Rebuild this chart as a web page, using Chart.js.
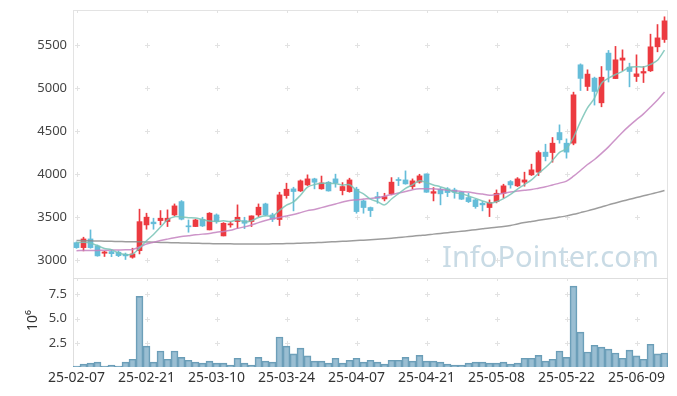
<!DOCTYPE html>
<html>
<head>
<meta charset="utf-8">
<script src="https://cdn.jsdelivr.net/npm/chart.js@4/dist/chart.umd.min.js"></script>
<style>
html,body{margin:0;padding:0;background:#fff;}
#wrap{position:relative;width:677px;height:396px;overflow:hidden;}
#c1{position:absolute;left:0;top:0;}
#c2{position:absolute;left:0;top:278px;}
</style>
</head>
<body>
<div id="wrap">
<canvas id="c1" width="677" height="278"></canvas>
<canvas id="c2" width="677" height="118"></canvas>
</div>
<script>
const dates = ['25-02-07','25-02-10','25-02-11','25-02-12','25-02-13','25-02-14','25-02-17','25-02-18','25-02-19','25-02-20',
'25-02-21','25-02-24','25-02-25','25-02-26','25-02-27','25-02-28','25-03-04','25-03-05','25-03-06','25-03-07',
'25-03-10','25-03-11','25-03-12','25-03-13','25-03-14','25-03-17','25-03-18','25-03-19','25-03-20','25-03-21',
'25-03-24','25-03-25','25-03-26','25-03-27','25-03-28','25-03-31','25-04-01','25-04-02','25-04-03','25-04-04',
'25-04-07','25-04-08','25-04-09','25-04-10','25-04-11','25-04-14','25-04-15','25-04-16','25-04-17','25-04-18',
'25-04-21','25-04-22','25-04-23','25-04-24','25-04-25','25-04-28','25-04-29','25-04-30','25-05-02','25-05-07',
'25-05-08','25-05-09','25-05-12','25-05-13','25-05-14','25-05-15','25-05-16','25-05-19','25-05-20','25-05-21',
'25-05-22','25-05-23','25-05-26','25-05-27','25-05-28','25-05-29','25-05-30','25-06-02','25-06-04','25-06-05',
'25-06-09','25-06-10','25-06-11','25-06-12','25-06-13'];

const xTickLabels = ['25-02-07','25-02-21','25-03-10','25-03-24','25-04-07','25-04-21','25-05-08','25-05-22','25-06-09'];
const priceTicks = [3000,3500,4000,4500,5000,5500];
const volumeTicks = [2.5,5.0,7.5];

const openV = [3201,3143,3244,3163,3078,3097,3090,3066,3031,3108,
3407,3440,3457,3446,3523,3678,3395,3388,3473,3349,
3523,3279,3407,3446,3457,3446,3523,3651,3523,3470,
3748,3826,3802,3872,3942,3826,3903,3942,3806,3794,
3822,3686,3609,3736,3709,3768,3935,3930,3853,3904,
4000,3775,3822,3826,3814,3787,3725,3698,3659,3609,
3678,3775,3911,3861,3904,3989,4020,4253,4248,4481,
4357,4357,5268,5016,5113,4826,5404,5108,5322,5241,
5132,5172,5198,5477,5562];
const highV = [3210,3264,3349,3174,3100,3116,3105,3080,3136,3590,
3543,3485,3574,3582,3651,3690,3465,3473,3496,3550,
3535,3434,3446,3640,3496,3512,3651,3660,3543,3787,
3892,3845,3930,3989,3950,3975,3911,3997,3899,3950,
3845,3697,3615,3787,3775,3957,3957,4035,3942,3996,
4000,3841,3841,3841,3834,3795,3775,3705,3678,3698,
3814,3880,3923,3957,4020,4113,4268,4345,4423,4570,
4407,4950,5279,5210,5125,5248,5435,5482,5442,5287,
5384,5248,5624,5736,5826];
const lowV = [3135,3105,3136,3043,3040,3038,3038,3005,3020,3070,
3357,3357,3407,3388,3512,3465,3322,3388,3388,3349,
3426,3279,3380,3368,3364,3388,3504,3512,3446,3400,
3717,3570,3795,3864,3826,3822,3799,3845,3756,3787,
3543,3543,3504,3659,3686,3756,3864,3880,3826,3892,
3785,3686,3640,3736,3717,3702,3667,3600,3570,3504,
3663,3721,3834,3853,3857,3981,3981,4151,4136,4357,
4183,4338,4969,4969,4800,4780,5068,5108,5200,5012,
5074,5062,5190,5419,5528];
const closeV = [3143,3244,3143,3047,3093,3073,3050,3047,3070,3445,
3497,3420,3485,3485,3628,3473,3385,3465,3395,3543,
3446,3426,3420,3496,3426,3512,3613,3523,3473,3756,
3822,3795,3919,3942,3903,3895,3802,3892,3853,3930,
3562,3609,3574,3717,3736,3904,3923,3884,3919,3977,
3787,3794,3768,3783,3787,3706,3678,3620,3640,3667,
3775,3861,3872,3942,3930,4047,4248,4202,4357,4396,
4253,4919,5110,5160,4958,5124,5206,5326,5347,5190,
5163,5190,5477,5581,5779];

const ma5 = [3200,3205,3198,3165,3134,3120,3081,3062,3067,3137,
3222,3296,3383,3466,3503,3498,3491,3487,3469,3452,
3447,3455,3446,3466,3443,3456,3493,3514,3509,3575,
3637,3674,3753,3847,3876,3891,3892,3887,3869,3874,
3808,3769,3706,3678,3640,3708,3771,3833,3873,3921,
3898,3872,3849,3822,3784,3768,3744,3715,3686,3662,
3676,3713,3763,3823,3876,3930,4008,4074,4157,4250,
4291,4425,4607,4768,4880,5054,5112,5155,5192,5239,
5246,5243,5273,5320,5438];
const ma20 = [3108,3109,3110,3111,3112,3114,3116,3118,3122,3150,
3185,3205,3225,3242,3258,3272,3282,3292,3300,3307,
3322,3331,3345,3367,3384,3406,3434,3458,3478,3493,
3510,3528,3550,3573,3587,3608,3629,3650,3673,3692,
3698,3707,3715,3726,3741,3761,3777,3795,3817,3828,
3826,3826,3819,3811,3805,3795,3789,3776,3765,3752,
3762,3775,3790,3801,3811,3818,3834,3850,3872,3893,
3916,3973,4040,4109,4167,4238,4314,4400,4485,4561,
4631,4697,4777,4859,4952];
const ma120 = [3225,3224,3222,3220,3218,3216,3214,3212,3210,3210,
3208,3206,3204,3202,3200,3198,3196,3194,3192,3190,
3189,3188,3187,3186,3186,3185,3185,3186,3187,3188,
3190,3192,3194,3197,3200,3204,3208,3212,3216,3220,
3225,3230,3235,3241,3246,3252,3260,3268,3276,3284,
3291,3300,3308,3316,3325,3333,3342,3352,3362,3372,
3380,3388,3400,3418,3434,3447,3460,3472,3485,3498,
3512,3530,3550,3570,3592,3615,3640,3662,3684,3705,
3725,3745,3765,3785,3806];
const volumeM = [0.1,0.3,0.4,0.5,0.1,0.2,0.1,0.5,0.8,7.3,
2.15,0.5,1.65,0.8,1.65,1.0,0.7,0.5,0.4,0.6,
0.4,0.4,0.2,0.9,0.4,0.2,1.0,0.6,0.5,3.1,
2.15,1.35,1.95,1.15,0.6,0.6,0.4,0.9,0.4,0.7,
0.9,0.5,0.7,0.5,0.3,0.7,0.7,1.0,0.6,1.2,
0.6,0.6,0.5,0.3,0.2,0.2,0.4,0.5,0.5,0.4,
0.4,0.5,0.3,0.4,0.9,0.9,1.2,0.6,0.8,1.65,
1.0,8.36,3.6,1.55,2.25,2.05,1.85,1.45,0.9,1.75,
1.15,0.8,2.35,1.35,1.45];

const UP = '#ec3a40', DOWN = '#65bdd9';
const candleColors = dates.map((d,i) => closeV[i] >= openV[i] ? UP : DOWN);
const FONT = '"Noto Sans", "DejaVu Sans", sans-serif';

function drawPlus(ctx, x, y) {
  ctx.beginPath();
  ctx.moveTo(Math.round(x) - 2, Math.round(y) + 0.5);
  ctx.lineTo(Math.round(x) + 3, Math.round(y) + 0.5);
  ctx.moveTo(Math.round(x) + 0.5, Math.round(y) - 2);
  ctx.lineTo(Math.round(x) + 0.5, Math.round(y) + 3);
  ctx.stroke();
}

function fixY(s) { s.width = 73; s.paddingTop = 0; s.paddingBottom = 0; }
function fixX(s, h) { s.height = h; s.paddingLeft = 0; s.paddingRight = 0; }

const frameA = {
  id: 'frameA',
  beforeDatasetsDraw(chart) {
    const {ctx, chartArea: a, scales} = chart;
    ctx.save();
    ctx.fillStyle = '#c9dbe5';
    ctx.font = '100px ' + FONT;
    const w = ctx.measureText('InfoPointer.com').width;
    const size = 100 * 217 / w;
    ctx.font = size.toFixed(2) + 'px ' + FONT;
    ctx.textAlign = 'right';
    ctx.textBaseline = 'alphabetic';
    ctx.fillText('InfoPointer.com', 659, 267);
    ctx.strokeStyle = '#e3e3e3';
    ctx.lineWidth = 1;
    ctx.beginPath();
    ctx.moveTo(a.left, a.top + 0.5); ctx.lineTo(a.right, a.top + 0.5);
    ctx.moveTo(a.left + 0.5, a.top); ctx.lineTo(a.left + 0.5, a.bottom);
    ctx.moveTo(a.right - 0.5, a.top); ctx.lineTo(a.right - 0.5, a.bottom);
    ctx.stroke();
    ctx.strokeStyle = '#e2e2e2';
    dates.forEach((d, i) => {
      if (!xTickLabels.includes(d)) return;
      const x = scales.x.getPixelForValue(i);
      priceTicks.forEach(v => drawPlus(ctx, x, scales.y.getPixelForValue(v)));
      ctx.beginPath();
      ctx.moveTo(Math.round(x) + 0.5, a.top); ctx.lineTo(Math.round(x) + 0.5, a.top + 3);
      ctx.stroke();
    });
    ctx.restore();
  }
};

const frameB = {
  id: 'frameB',
  beforeDatasetsDraw(chart) {
    const {ctx, chartArea: a, scales} = chart;
    ctx.save();
    ctx.strokeStyle = '#dedede';
    ctx.lineWidth = 1;
    ctx.beginPath();
    ctx.moveTo(a.left, a.top + 0.5); ctx.lineTo(a.right, a.top + 0.5);
    ctx.moveTo(a.left + 0.5, a.top); ctx.lineTo(a.left + 0.5, a.bottom);
    ctx.moveTo(a.right - 0.5, a.top); ctx.lineTo(a.right - 0.5, a.bottom);
    ctx.stroke();
    ctx.strokeStyle = '#e2e2e2';
    dates.forEach((d, i) => {
      if (!xTickLabels.includes(d)) return;
      const x = scales.x.getPixelForValue(i);
      volumeTicks.forEach(v => drawPlus(ctx, x, scales.y.getPixelForValue(v)));
      ctx.beginPath();
      ctx.moveTo(Math.round(x) + 0.5, a.top); ctx.lineTo(Math.round(x) + 0.5, a.top + 3);
      ctx.stroke();
    });
    ctx.fillStyle = '#333';
    ctx.font = '14px ' + FONT;
    ctx.translate(33, scales.y.getPixelForValue(5.0) + 2);
    ctx.rotate(-Math.PI / 2);
    ctx.textAlign = 'center';
    ctx.textBaseline = 'middle';
    ctx.fillText('10⁶', 0, 0);
    ctx.restore();
  }
};

const lineDs = (label, data, color) => ({
  type: 'line', label, data, borderColor: color, borderWidth: 1.5,
  pointRadius: 0, tension: 0.3, fill: false, order: 0
});

new Chart(document.getElementById('c1'), {
  type: 'bar',
  data: {
    labels: dates,
    datasets: [
      lineDs('MA5', ma5, 'rgba(120,195,182,0.85)'),
      lineDs('MA20', ma20, 'rgba(196,130,192,0.85)'),
      lineDs('MA120', ma120, 'rgba(140,140,140,0.85)'),
      { label: 'wick', data: dates.map((d,i) => [lowV[i], highV[i]]), backgroundColor: candleColors,
        barThickness: 1, grouped: false, order: 2 },
      { label: 'body', data: dates.map((d,i) => [openV[i], closeV[i]]), backgroundColor: candleColors,
        barThickness: 5, grouped: false, minBarLength: 1, order: 1 }
    ]
  },
  options: {
    responsive: false, animation: false,
    layout: { padding: { top: 10, right: 9, left: 0, bottom: 0 } },
    plugins: { legend: { display: false }, tooltip: { enabled: false } },
    scales: {
      x: { display: false, offset: true },
      y: {
        min: 2790, max: 5905,
        afterBuildTicks: s => { s.ticks = priceTicks.map(v => ({ value: v })); },
        afterFit: fixY,
        grid: { display: false, drawTicks: false },
        border: { display: false },
        ticks: { color: '#444', padding: 6, font: { family: FONT, size: 13 },
          callback: v => String(v) }
      }
    }
  },
  plugins: [frameA]
});

new Chart(document.getElementById('c2'), {
  type: 'bar',
  data: {
    labels: dates,
    datasets: [{
      label: 'Volume', data: volumeM,
      backgroundColor: 'rgba(120,168,195,0.75)', borderColor: '#6a9db6', borderWidth: 1,
      categoryPercentage: 1.0, barPercentage: 1.0
    }]
  },
  options: {
    responsive: false, animation: false,
    layout: { padding: { top: 0, right: 9, left: 0, bottom: 0 } },
    plugins: { legend: { display: false }, tooltip: { enabled: false } },
    scales: {
      x: {
        offset: true,
        afterFit: s => fixX(s, 29),
        grid: { display: false, drawTicks: false },
        border: { display: false },
        ticks: {
          autoSkip: false, maxRotation: 0, minRotation: 0, padding: 3,
          color: '#333', font: { family: FONT, size: 14 },
          callback: (v, i) => xTickLabels.includes(dates[i]) ? dates[i] : ''
        }
      },
      y: {
        min: 0, max: 9.2,
        afterBuildTicks: s => { s.ticks = volumeTicks.map(v => ({ value: v })); },
        afterFit: fixY,
        grid: { display: false, drawTicks: false },
        border: { display: false },
        ticks: { color: '#444', padding: 6, font: { family: FONT, size: 13 },
          callback: v => Number(v).toFixed(1) }
      }
    }
  },
  plugins: [frameB]
});
</script>
</body>
</html>
